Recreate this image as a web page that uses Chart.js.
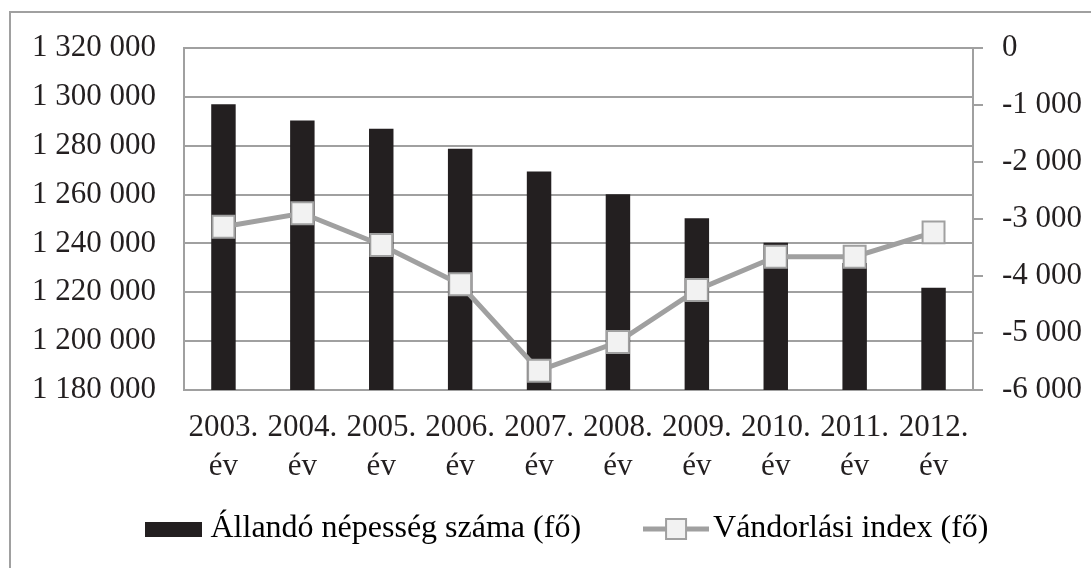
<!DOCTYPE html>
<html>
<head>
<meta charset="utf-8">
<script src="https://cdn.jsdelivr.net/npm/chart.js@4"></script>
<style>
  html, body { margin: 0; padding: 0; background: #fff; }
  #wrap { width: 1091px; height: 568px; }
</style>
</head>
<body>
<div id="wrap"><canvas id="chart"></canvas></div>
<script>
var years = ['2003.', '2004.', '2005.', '2006.', '2007.', '2008.', '2009.', '2010.', '2011.', '2012.'];
var population = [1297000, 1290300, 1286900, 1278800, 1269400, 1260100, 1250300, 1240300, 1232000, 1221900];
var migration = [-3135, -2900, -3456, -4146, -5661, -5158, -4246, -3661, -3661, -3234];
var seriesNames = ['Állandó népesség száma (fő)', 'Vándorlási index (fő)'];

var gray = '#a0a0a0';
var barColor = '#231f20';
var font = 'Liberation Serif';

// labels for the x axis: year on first line, "év" below
var labels = years.map(function(y) { return [y, 'év']; });

function spaced(v) {
  var s = Math.abs(v).toString().replace(/\B(?=(\d{3})+(?!\d))/g, ' ');
  return (v < 0 ? '-' : '') + s;
}

// small pictures used as legend symbols
var barSwatch = document.createElement('canvas');
barSwatch.width = 57; barSwatch.height = 15;
var c1 = barSwatch.getContext('2d');
c1.fillStyle = barColor;
c1.fillRect(0, 0, 57, 15);

var lineSwatch = document.createElement('canvas');
lineSwatch.width = 66; lineSwatch.height = 24;
var c2 = lineSwatch.getContext('2d');
c2.strokeStyle = gray;
c2.lineWidth = 5;
c2.beginPath(); c2.moveTo(0, 12); c2.lineTo(66, 12); c2.stroke();
c2.fillStyle = '#f2f2f2';
c2.fillRect(23, 2, 20, 20);
c2.lineWidth = 2;
c2.strokeRect(23, 2, 20, 20);

// white background plus the left and top frame lines
var frame = {
  id: 'frame',
  beforeDraw: function(chart) {
    var ctx = chart.ctx;
    ctx.save();
    ctx.fillStyle = '#fff';
    ctx.fillRect(0, 0, chart.width, chart.height);
    ctx.strokeStyle = gray;
    ctx.lineWidth = 2;
    ctx.beginPath();
    ctx.moveTo(10, chart.height);
    ctx.lineTo(10, 12);
    ctx.lineTo(chart.width, 12);
    ctx.stroke();
    ctx.restore();
  }
};

// legend sits a bit right of centre and lower than the layout puts it
var legendShift = {
  id: 'legendShift',
  afterLayout: function(chart) {
    var lg = chart.legend;
    lg.left += 25;
    lg.right += 25;
    lg.top = 439;
    lg.bottom = chart.height;
  }
};

var ctx = document.getElementById('chart').getContext('2d');
var myChart = new Chart(ctx, {
  type: 'bar',
  data: {
    labels: labels,
    datasets: [{
      type: 'line',
      label: seriesNames[1],
      data: migration,
      yAxisID: 'y1',
      order: 0,
      borderColor: gray,
      borderWidth: 5,
      pointStyle: 'rect',
      pointRadius: 15.5,
      pointBackgroundColor: '#f2f2f2',
      pointBorderColor: gray,
      pointBorderWidth: 2,
      tension: 0
    }, {
      type: 'bar',
      label: seriesNames[0],
      data: population,
      yAxisID: 'y',
      order: 1,
      backgroundColor: barColor,
      barPercentage: 0.31,
      categoryPercentage: 1
    }]
  },
  options: {
    responsive: true,
    maintainAspectRatio: false,
    animation: false,
    layout: { padding: { top: 48, left: 0, right: 0, bottom: 18 } },
    plugins: {
      tooltip: { enabled: false },
      legend: {
        position: 'bottom',
        maxHeight: 60,
        labels: {
          usePointStyle: true,
          pointStyleWidth: 42,
          padding: 74,
          color: '#231f20',
          font: { family: font, size: 32 },
          generateLabels: function(chart) {
            return [
              { text: seriesNames[0], pointStyle: barSwatch, fillStyle: barColor, strokeStyle: barColor, lineWidth: 0, datasetIndex: 1, hidden: false },
              { text: seriesNames[1], pointStyle: lineSwatch, fillStyle: gray, strokeStyle: gray, lineWidth: 0, datasetIndex: 0, hidden: false }
            ];
          }
        }
      }
    },
    scales: {
      x: {
        grid: { display: false, drawTicks: false },
        border: { display: true, color: gray, width: 2 },
        ticks: {
          color: '#231f20',
          padding: 19,
          maxRotation: 0,
          autoSkip: false,
          font: { family: font, size: 31, lineHeight: 1.24 }
        },
        afterFit: function(scale) { scale.height = 100; }
      },
      y: {
        position: 'left',
        min: 1180000,
        max: 1320000,
        grid: { color: gray, lineWidth: 2, drawTicks: false },
        border: { display: true, color: gray, width: 2 },
        ticks: {
          stepSize: 20000,
          autoSkip: false,
          padding: 28,
          color: '#231f20',
          font: { family: font, size: 31 },
          callback: function(v) { return spaced(v); }
        },
        afterFit: function(scale) { scale.width = 184; }
      },
      y1: {
        position: 'right',
        min: -6000,
        max: 0,
        grid: { drawOnChartArea: false, color: gray, lineWidth: 2, tickLength: 10 },
        border: { display: true, color: gray, width: 2 },
        ticks: {
          stepSize: 1000,
          autoSkip: false,
          padding: 19,
          color: '#231f20',
          font: { family: font, size: 31 },
          callback: function(v) { return spaced(v); }
        },
        afterFit: function(scale) { scale.width = 118; }
      }
    }
  },
  plugins: [frame, legendShift]
});
</script>
</body>
</html>
